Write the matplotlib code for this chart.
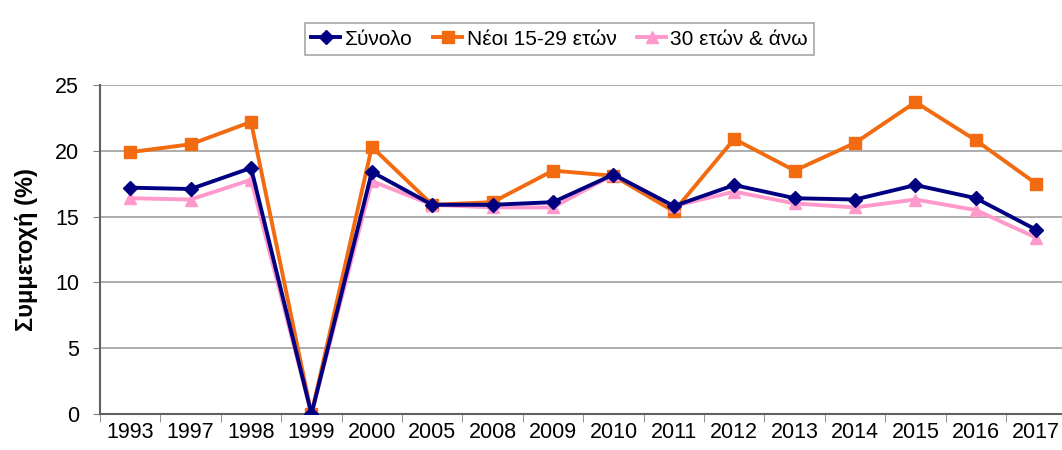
import matplotlib
matplotlib.use('Agg')
import matplotlib.pyplot as plt
import numpy as np

plt.rcParams['font.family'] = ['Liberation Sans', 'DejaVu Sans']

# === Data ===
years = ['1993', '1997', '1998', '1999', '2000', '2005', '2008', '2009',
         '2010', '2011', '2012', '2013', '2014', '2015', '2016', '2017']
total = [17.2, 17.1, 18.7, 0.0, 18.4, 15.9, 15.9, 16.1,
         18.2, 15.8, 17.4, 16.4, 16.3, 17.4, 16.4, 14.0]
young = [19.9, 20.5, 22.2, 0.0, 20.3, 15.9, 16.1, 18.5,
         18.1, 15.4, 20.9, 18.5, 20.6, 23.7, 20.8, 17.5]
older = [16.4, 16.3, 17.8, 0.0, 17.7, 15.9, 15.7, 15.7,
         18.2, 15.8, 16.9, 16.0, 15.7, 16.3, 15.5, 13.4]
labels = ['Σύνολο', 'Νέοι 15-29 ετών', '30 ετών & άνω']

x = np.arange(len(years))

fig = plt.figure(figsize=(10.62, 4.5), dpi=100)
ax = fig.add_axes([0.0942, 0.08, 0.91, 0.731])

ax.plot(x, young, color='#F26B10', lw=2.8, marker='s', ms=9, zorder=3, label=labels[1])
ax.plot(x, total, color='#000080', lw=2.8, marker='D', ms=7, zorder=4, label=labels[0])
ax.plot(x, older, color='#FF99CC', lw=2.8, marker='^', ms=9, zorder=5, label=labels[2])
# blue drawn above pink except where they overlap at the dip
ax.lines[1].set_zorder(6)

ax.set_xlim(-0.5, len(years) - 0.5)
ax.set_ylim(0, 25)
ax.set_yticks([0, 5, 10, 15, 20, 25])
ax.set_xticks(x)
ax.set_xticklabels(years)
ax.set_xticks(np.arange(-0.5, len(years), 1.0), minor=True)
ax.tick_params(axis='x', which='major', length=0, labelsize=15.5, pad=6)
ax.tick_params(axis='x', which='minor', length=6, color='#808080', direction='out')
ax.tick_params(axis='y', labelsize=15.5, length=5, color='#808080', pad=10)

ax.grid(axis='y', color='#A0A0A0', lw=1.2)
ax.set_axisbelow(True)
for s in ['top', 'right']:
    ax.spines[s].set_visible(False)
ax.spines['left'].set_color('#606060')
ax.spines['bottom'].set_color('#606060')
ax.spines['left'].set_linewidth(1.5)
ax.spines['bottom'].set_linewidth(1.5)

ax.set_ylabel('Συμμετοχή (%)', fontsize=17, fontweight='bold', labelpad=12)

h, l = ax.get_legend_handles_labels()
order = [1, 0, 2]
leg = fig.legend([h[i] for i in order], [l[i] for i in order], loc='center',
                 bbox_to_anchor=(0.527, 0.913), ncol=3, fontsize=15, frameon=True,
                 fancybox=False, edgecolor='#909090', handlelength=1.4,
                 handletextpad=0.2, columnspacing=1.0, borderpad=0.3)
leg.get_frame().set_linewidth(1.2)

fig.savefig('out.png', dpi=100)
